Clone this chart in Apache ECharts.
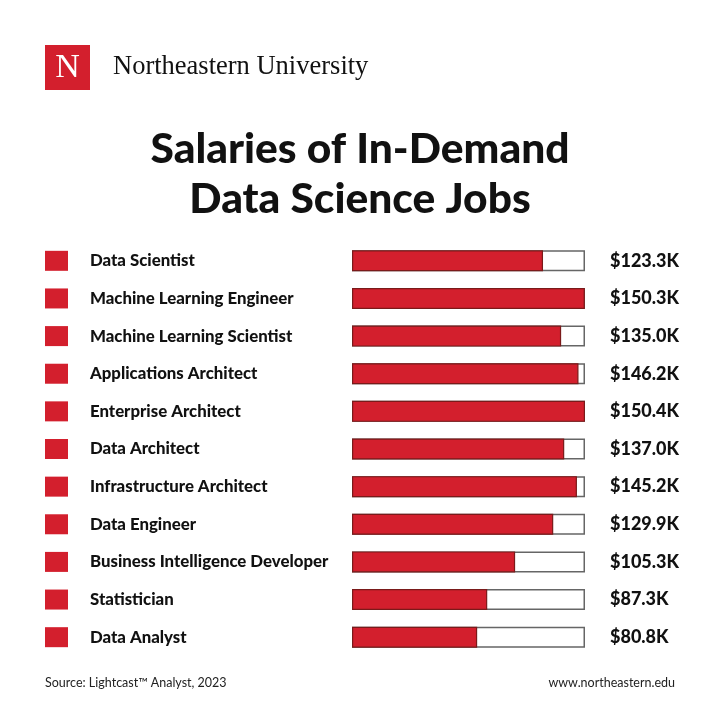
<!DOCTYPE html>
<html><head><meta charset="utf-8">
<script src="https://cdn.jsdelivr.net/npm/echarts@6/dist/echarts.min.js"></script>
<style>html,body{margin:0;padding:0;background:#fff}#c{width:720px;height:720px}</style>
</head><body><div id="c"></div>
<script>
const jobs = ["Data Scientist","Machine Learning Engineer","Machine Learning Scientist","Applications Architect","Enterprise Architect","Data Architect","Infrastructure Architect","Data Engineer","Business Intelligence Developer","Statistician","Data Analyst"];
const salaries = [123.3,150.3,135.0,146.2,150.4,137.0,145.2,129.9,105.3,87.3,80.8];
const scaleMax = 150.4;
const RED = '#d31f2d';
const chart = echarts.init(document.getElementById('c'));
chart.setOption({
  backgroundColor:'#fff',
  animation:false,
  title:[{
    text:'Salaries of In-Demand\nData Science Jobs',
    left:360, top:124, textAlign:'center', padding:0,
    textStyle:{fontFamily:'Lato', fontWeight:900, fontSize:42.5, lineHeight:50, color:'#111'}
  },{
    text:'Source: Lightcast\u2122 Analyst, 2023', left:45, top:676, padding:0,
    textStyle:{fontFamily:'Lato', fontWeight:'normal', fontSize:12.5, color:'#222'}
  },{
    text:'www.northeastern.edu', right:45, top:676, padding:0,
    textStyle:{fontFamily:'Lato', fontWeight:'normal', fontSize:12.5, color:'#222'}
  }],
  graphic:[
    {type:'rect', shape:{x:45,y:45,width:45,height:45}, style:{fill:RED}},
    {type:'text', x:67.5, y:68, style:{text:'N', font:'34px "Liberation Serif"', fill:'#fff', textAlign:'center', textVerticalAlign:'middle'}},
    {type:'text', x:113, y:67, style:{text:'Northeastern University', font:'26.5px "Liberation Serif"', fill:'#111', textVerticalAlign:'middle'}}
  ],
  grid:{left:352, right:135, top:242, height:414},
  xAxis:{type:'value', min:0, max:scaleMax, show:false},
  yAxis:{type:'category', data:jobs, inverse:true,
    axisLine:{show:false}, axisTick:{show:false}, splitLine:{show:false},
    axisLabel:{margin:307, align:'left',
      formatter:v=>'{sq|}{gap|}{nm|'+v+'}',
      rich:{
        sq:{width:23, height:20, backgroundColor:RED},
        gap:{width:22},
        nm:{fontFamily:'Lato', fontWeight:900, fontSize:16.8, color:'#111'}
      }}
  },
  series:[{
    type:'bar', data:jobs.map(()=>scaleMax), barWidth:21, barGap:'-100%', silent:true,
    itemStyle:{color:'#fff', borderColor:'#666', borderWidth:1.5},
    label:{show:true, position:'right', distance:25,
      formatter:p=>'$'+salaries[p.dataIndex].toFixed(1)+'K',
      fontFamily:'Lato', fontWeight:900, fontSize:18, color:'#111'}
  },{
    type:'bar', data:salaries, barWidth:21, barGap:'-100%',
    itemStyle:{color:RED, borderColor:'#7a1a1a', borderWidth:1.2}
  }]
});
</script></body></html>
